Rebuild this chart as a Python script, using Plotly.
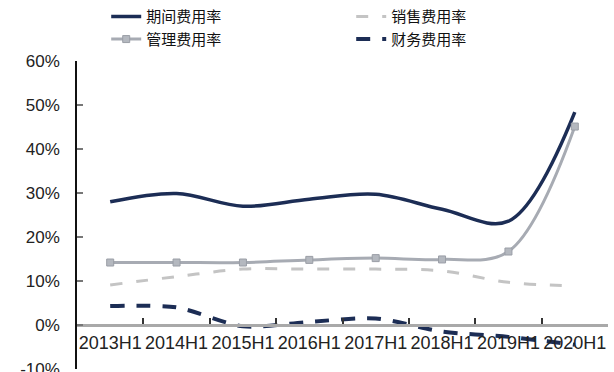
import plotly.graph_objects as go

# Half-year periods
periods = ["2013H1", "2014H1", "2015H1", "2016H1", "2017H1", "2018H1", "2019H1", "2020H1"]

# Expense ratios (%)
period_expense = [28.0, 29.9, 27.0, 28.6, 29.7, 26.3, 23.6, 48.4]   # 期间费用率
sales_expense = [9.1, 11.0, 12.7, 12.7, 12.7, 12.3, 9.7, 8.9]       # 销售费用率
admin_expense = [14.2, 14.2, 14.2, 14.8, 15.2, 14.9, 16.7, 45.1]    # 管理费用率
finance_expense = [4.3, 4.0, -0.3, 0.7, 1.5, -1.5, -2.7, -4.5]      # 财务费用率

y_ticks = [-10, 0, 10, 20, 30, 40, 50, 60]
y_tick_text = [f"{v}%" for v in y_ticks]

NAVY = "#1c2d55"
GRAY = "#a7abb3"
LIGHT = "#c4c4c4"

fig = go.Figure()

fig.add_trace(go.Scatter(
    x=periods, y=period_expense, name="期间费用率", mode="lines",
    line=dict(color=NAVY, width=3.5, shape="spline", smoothing=1.0),
))
fig.add_trace(go.Scatter(
    x=periods, y=sales_expense, name="销售费用率", mode="lines",
    line=dict(color=LIGHT, width=3, dash="12px,14px", shape="spline", smoothing=1.0),
))
fig.add_trace(go.Scatter(
    x=periods, y=admin_expense, name="管理费用率", mode="lines+markers",
    line=dict(color=GRAY, width=3, shape="spline", smoothing=1.0),
    marker=dict(symbol="square", size=7, color="#b4b8bf", line=dict(color="#9a9ea6", width=1)),
))
fig.add_trace(go.Scatter(
    x=periods, y=finance_expense, name="财务费用率", mode="lines",
    line=dict(color=NAVY, width=4, dash="14px,12px", shape="spline", smoothing=0.8),
))

fig.update_layout(
    width=614, height=372,
    margin=dict(l=77, r=6, t=61, b=3, autoexpand=False),
    paper_bgcolor="white", plot_bgcolor="white",
    font=dict(family="Liberation Sans, Arial, sans-serif", size=18, color="#222222"),
    showlegend=True,
    legend=dict(
        orientation="h", x=0.055, xanchor="left", y=1.197, yanchor="top",
        entrywidth=200, entrywidthmode="pixels", itemwidth=30,
        font=dict(family="Noto Sans CJK SC", size=15, color="#111111"),
        bgcolor="rgba(0,0,0,0)", tracegroupgap=0,
    ),
    xaxis=dict(
        type="category", anchor="free", position=1 / 7,
        showline=True, linecolor="#a9a9a9", linewidth=3,
        ticks="inside", ticklen=6, tickcolor="#333333", tickwidth=1.5,
        tickson="boundaries", tickangle=0, showgrid=False, zeroline=False,
        range=[-0.5, 7.5],
        tickfont=dict(size=18, color="#222222"),
    ),
    yaxis=dict(
        range=[-10, 60], tickvals=y_ticks, ticktext=y_tick_text,
        showline=True, linecolor="#111111", linewidth=1.5,
        ticks="inside", ticklen=6, tickcolor="#777777", tickwidth=1.5,
        showgrid=False, zeroline=False, ticklabelstandoff=12,
        ticklabeloverflow="allow",
        tickfont=dict(size=17, color="#222222"),
    ),
)

fig.write_html("out.html")
